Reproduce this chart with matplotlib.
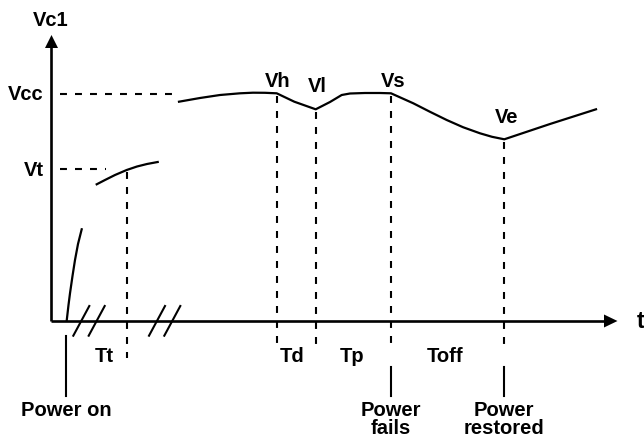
import matplotlib
matplotlib.use("Agg")
import matplotlib.pyplot as plt
import numpy as np

plt.rcParams['font.family'] = ['Liberation Sans', 'DejaVu Sans']
plt.rcParams['lines.scale_dashes'] = False

# ---- schematic data (t in px-like units, v measured downward from top) ----
rise_t = [66.7, 68.5, 70.0, 72.5, 75.0, 78.0, 81.7]
rise_v = [320.7, 305.0, 293.3, 276.0, 260.0, 244.0, 229.3]

approach_t = [96.7, 105.0, 115.0, 126.7, 137.0, 147.0, 157.7]
approach_v = [184.3, 180.0, 175.0, 170.0, 166.5, 164.0, 162.0]

main_t = [179.0, 200.0, 220.0, 240.0, 253.0, 265.0, 276.7, 294.3, 315.7,
          330.0, 341.7, 350.0, 365.0, 380.0, 391.0, 413.3, 430.0, 446.7,
          463.0, 480.0, 492.0, 504.3, 550.0, 596.0]
main_v = [101.7, 98.0, 95.0, 93.3, 92.7, 92.8, 93.3, 101.7, 109.3,
          102.0, 95.0, 93.5, 93.0, 93.0, 93.3, 103.3, 111.8, 120.0,
          127.2, 133.3, 136.8, 139.3, 124.0, 109.3]

level_names = ["Vcc", "Vt"]
level_values = [94.0, 169.0]
level_ends = [180.0, 106.0]

point_names = ["Vh", "Vl", "Vs", "Ve"]
point_t = [276.7, 315.7, 391.0, 504.3]
point_v = [93.3, 109.3, 93.3, 139.3]
point_label_v = [81.5, 87.0, 81.5, 117.5]

interval_names = ["Tt", "Td", "Tp", "Toff"]
interval_t = [104.0, 292.0, 352.5, 445.0]

event_names = ["Power on", "Power\nfails", "Power\nrestored"]
event_t = [66.0, 391.0, 504.3]

tt_mark = 126.7

# ---- figure ----
W, H = 644, 446
fig = plt.figure(figsize=(W / 100, H / 100), dpi=100)
ax = fig.add_axes([0, 0, 1, 1])
ax.set_xlim(0, W)
ax.set_ylim(H, 0)
ax.axis('off')

x0, y0 = 51.5, 321.0
axis_lw = 1.9
k = 'black'
fs = 14.5

# axes with arrows
ax.plot([x0, x0], [y0, 46], color=k, lw=axis_lw, solid_capstyle='butt')
ax.plot([x0, 605], [y0, y0], color=k, lw=axis_lw, solid_capstyle='butt')
ax.fill([x0 - 6.5, x0 + 6.5, x0], [48, 48, 35], color=k, lw=0)
ax.fill([604, 604, 617.5], [y0 - 6.5, y0 + 6.5, y0], color=k, lw=0)

ax.text(x0 - 1, 20, "Vc1", ha='center', va='center', fontsize=fs, fontweight='bold')
ax.text(637, y0 + 1, "t", ha='left', va='center', fontsize=fs + 2, fontweight='bold')

# break marks on time axis
for bx in [73.3, 88.7, 149.0, 164.3]:
    ax.plot([bx, bx + 16], [335.7, 306.0], color=k, lw=1.5)

dash = (0, (5.0, 5.8))

# level lines
for name, lv, le in zip(level_names, level_values, level_ends):
    ax.plot([60, le], [lv, lv], color=k, lw=1.5, linestyle=dash)
    ax.text(43.5, lv + 1, name, ha='right', va='center', fontsize=fs, fontweight='bold')

# curves
ax.plot(rise_t, rise_v, color=k, lw=1.6)
ax.plot(approach_t, approach_v, color=k, lw=1.6)
ax.plot(main_t, main_v, color=k, lw=1.6)

# Tt marker
ax.plot([tt_mark, tt_mark], [172, 358], color=k, lw=1.5, linestyle=dash)

# point markers
for name, pt, pv, lv in zip(point_names, point_t, point_v, point_label_v):
    ax.plot([pt, pt], [pv + 3, 351], color=k, lw=1.5, linestyle=dash)
    ax.text(pt + (2 if name != "Vh" else 1), lv, name, ha='center', va='center',
            fontsize=fs, fontweight='bold')

# interval labels
for name, it in zip(interval_names, interval_t):
    ax.text(it, 357, name, ha='center', va='center', fontsize=fs, fontweight='bold')

# event markers
for name, et in zip(event_names, event_t):
    top = 336 if name == "Power on" else 367
    ax.plot([et, et], [top, 396], color=k, lw=1.5)
    ax.text(et, 401, name, ha='center', va='top', fontsize=fs, fontweight='bold',
            linespacing=0.95)

fig.savefig("out.png", dpi=100)
